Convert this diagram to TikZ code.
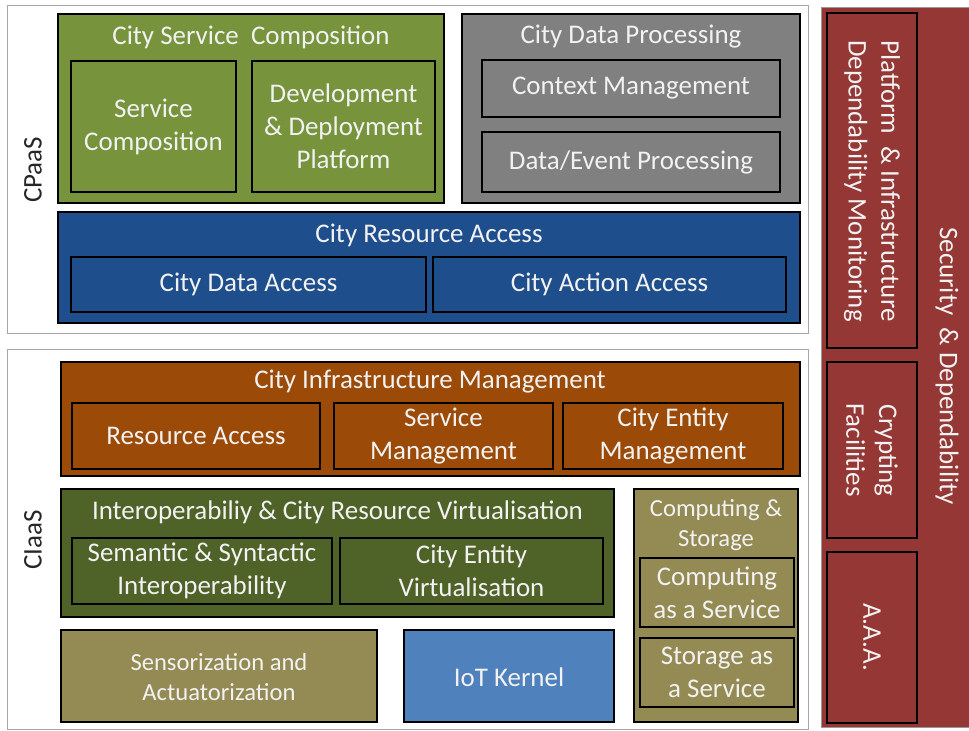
\documentclass[tikz,border=0pt]{standalone}
\usepackage{fontspec}
\setmainfont{Carlito}

\definecolor{cscgreen}{HTML}{77933C}
\definecolor{cdpgray}{HTML}{808080}
\definecolor{crablue}{HTML}{1F4E8C}
\definecolor{cimorange}{HTML}{9C4A08}
\definecolor{icrgreen}{HTML}{4F6228}
\definecolor{khaki}{HTML}{948A54}
\definecolor{iotblue}{HTML}{4F81BD}
\definecolor{secred}{HTML}{953735}
\definecolor{txt}{HTML}{F2F2F2}

\tikzset{
  layer/.style={draw=black!35, line width=0.8pt, fill=white},
  block/.style={draw=black, line width=1.2pt, fill=#1},
  inner/.style={draw=black, line width=1.8pt, fill=#1},
  lbl/.style={text=txt, align=center, inner sep=0pt, font=\fontsize{23}{28}\selectfont},
  small/.style={lbl, font=\fontsize{21}{25.5}\selectfont},
  side/.style={text=black!85, inner sep=0pt, rotate=90, font=\fontsize{23}{28}\selectfont}
}

\begin{document}
\begin{tikzpicture}[x=0.03cm,y=-0.03cm]
    \useasboundingbox (0,0) rectangle (969,731);

    % security column on the right
    \draw[block=secred, draw=black!40, line width=0.8pt] (821,7) rectangle (969,727);
    \draw[inner=secred] (827,13) rectangle (917,348);
    \draw[inner=secred] (827,362) rectangle (917,538);
    \draw[inner=secred] (827,552) rectangle (917,723);
    \node[lbl, rotate=-90] (pidm) at (872,181) {Platform \ \& Infrastructure\\Dependability Monitoring};
    \node[lbl, rotate=-90] (crypt) at (872,450) {Crypting\\Facilities};
    \node[lbl, rotate=-90] (aaa) at (872,637) {A.A.A.};
    \node[lbl, rotate=-90] (secdep) at (947,366) {Security \ \& Dependability};

    % CPaaS layer
    \draw[layer] (7,5) rectangle (808,333);
    \node[side] (cpaas) at (33,170) {CPaaS};

    \draw[block=cscgreen] (58,14) rectangle (444,203);
    \node[lbl] (csc) at (251,37) {City Service \ Composition};
    \draw[inner=cscgreen] (71,61) rectangle (236,192);
    \node[lbl] (sc) at (153.5,127) {Service\\Composition};
    \draw[inner=cscgreen] (252,61) rectangle (435,192);
    \node[lbl] (ddp) at (343.5,126) {Development\\\& Deployment\\Platform};

    \draw[block=cdpgray] (462,14) rectangle (800,203);
    \node[lbl] (cdp) at (631,37) {City Data Processing};
    \draw[inner=cdpgray] (482,60) rectangle (780,117);
    \node[lbl] (cm) at (631,88.5) {Context Management};
    \draw[inner=cdpgray] (482,132) rectangle (780,192);
    \node[lbl] (dep) at (631,162) {Data/Event Processing};

    \draw[block=crablue] (58,212) rectangle (800,323);
    \node[lbl] (cra) at (429,235) {City Resource Access};
    \draw[inner=crablue] (71,257) rectangle (426,312);
    \node[lbl] (cda) at (248.5,284.5) {City Data Access};
    \draw[inner=crablue] (433,257) rectangle (786,312);
    \node[lbl] (caa) at (609.5,284.5) {City Action Access};

    % CIaaS layer
    \draw[layer] (7,349) rectangle (808,729);
    \node[side] (ciaas) at (33,540) {CIaaS};

    \draw[block=cimorange] (61,362) rectangle (800,476);
    \node[lbl] (cim) at (430,382) {City Infrastructure Management};
    \draw[inner=cimorange] (72,403) rectangle (320,469);
    \node[lbl] (ra) at (196,436) {Resource Access};
    \draw[inner=cimorange] (334,403) rectangle (553,469);
    \node[lbl] (sm) at (443.5,436) {Service\\Management};
    \draw[inner=cimorange] (563,403) rectangle (783,469);
    \node[lbl] (cem) at (673,436) {City Entity\\Management};

    \draw[block=icrgreen] (61,489) rectangle (614,617);
    \node[lbl] (icrv) at (337.5,512) {Interoperabiliy \& City Resource Virtualisation};
    \draw[inner=icrgreen] (72,538) rectangle (332,604);
    \node[lbl] (ssi) at (202,571) {Semantic \& Syntactic\\Interoperability};
    \draw[inner=icrgreen] (340,538) rectangle (603,604);
    \node[lbl] (cev) at (471.5,571) {City Entity\\Virtualisation};

    \draw[block=khaki] (61,630) rectangle (377,722);
    \node[small] (sa) at (219,677) {Sensorization and\\Actuatorization};
    \draw[block=iotblue] (404,630) rectangle (614,722);
    \node[lbl] (iot) at (509,677) {IoT Kernel};

    \draw[block=khaki] (634,489) rectangle (798,722);
    \node[small] (cs) at (716,525) {Computing \&\\Storage};
    \draw[inner=khaki] (640,558) rectangle (794,627);
    \node[lbl] (caas) at (717,592.5) {Computing\\as a Service};
    \draw[inner=khaki] (640,638) rectangle (794,707);
    \node[lbl] (saas) at (717,672.5) {Storage as\\a Service};
\end{tikzpicture}
\end{document}
